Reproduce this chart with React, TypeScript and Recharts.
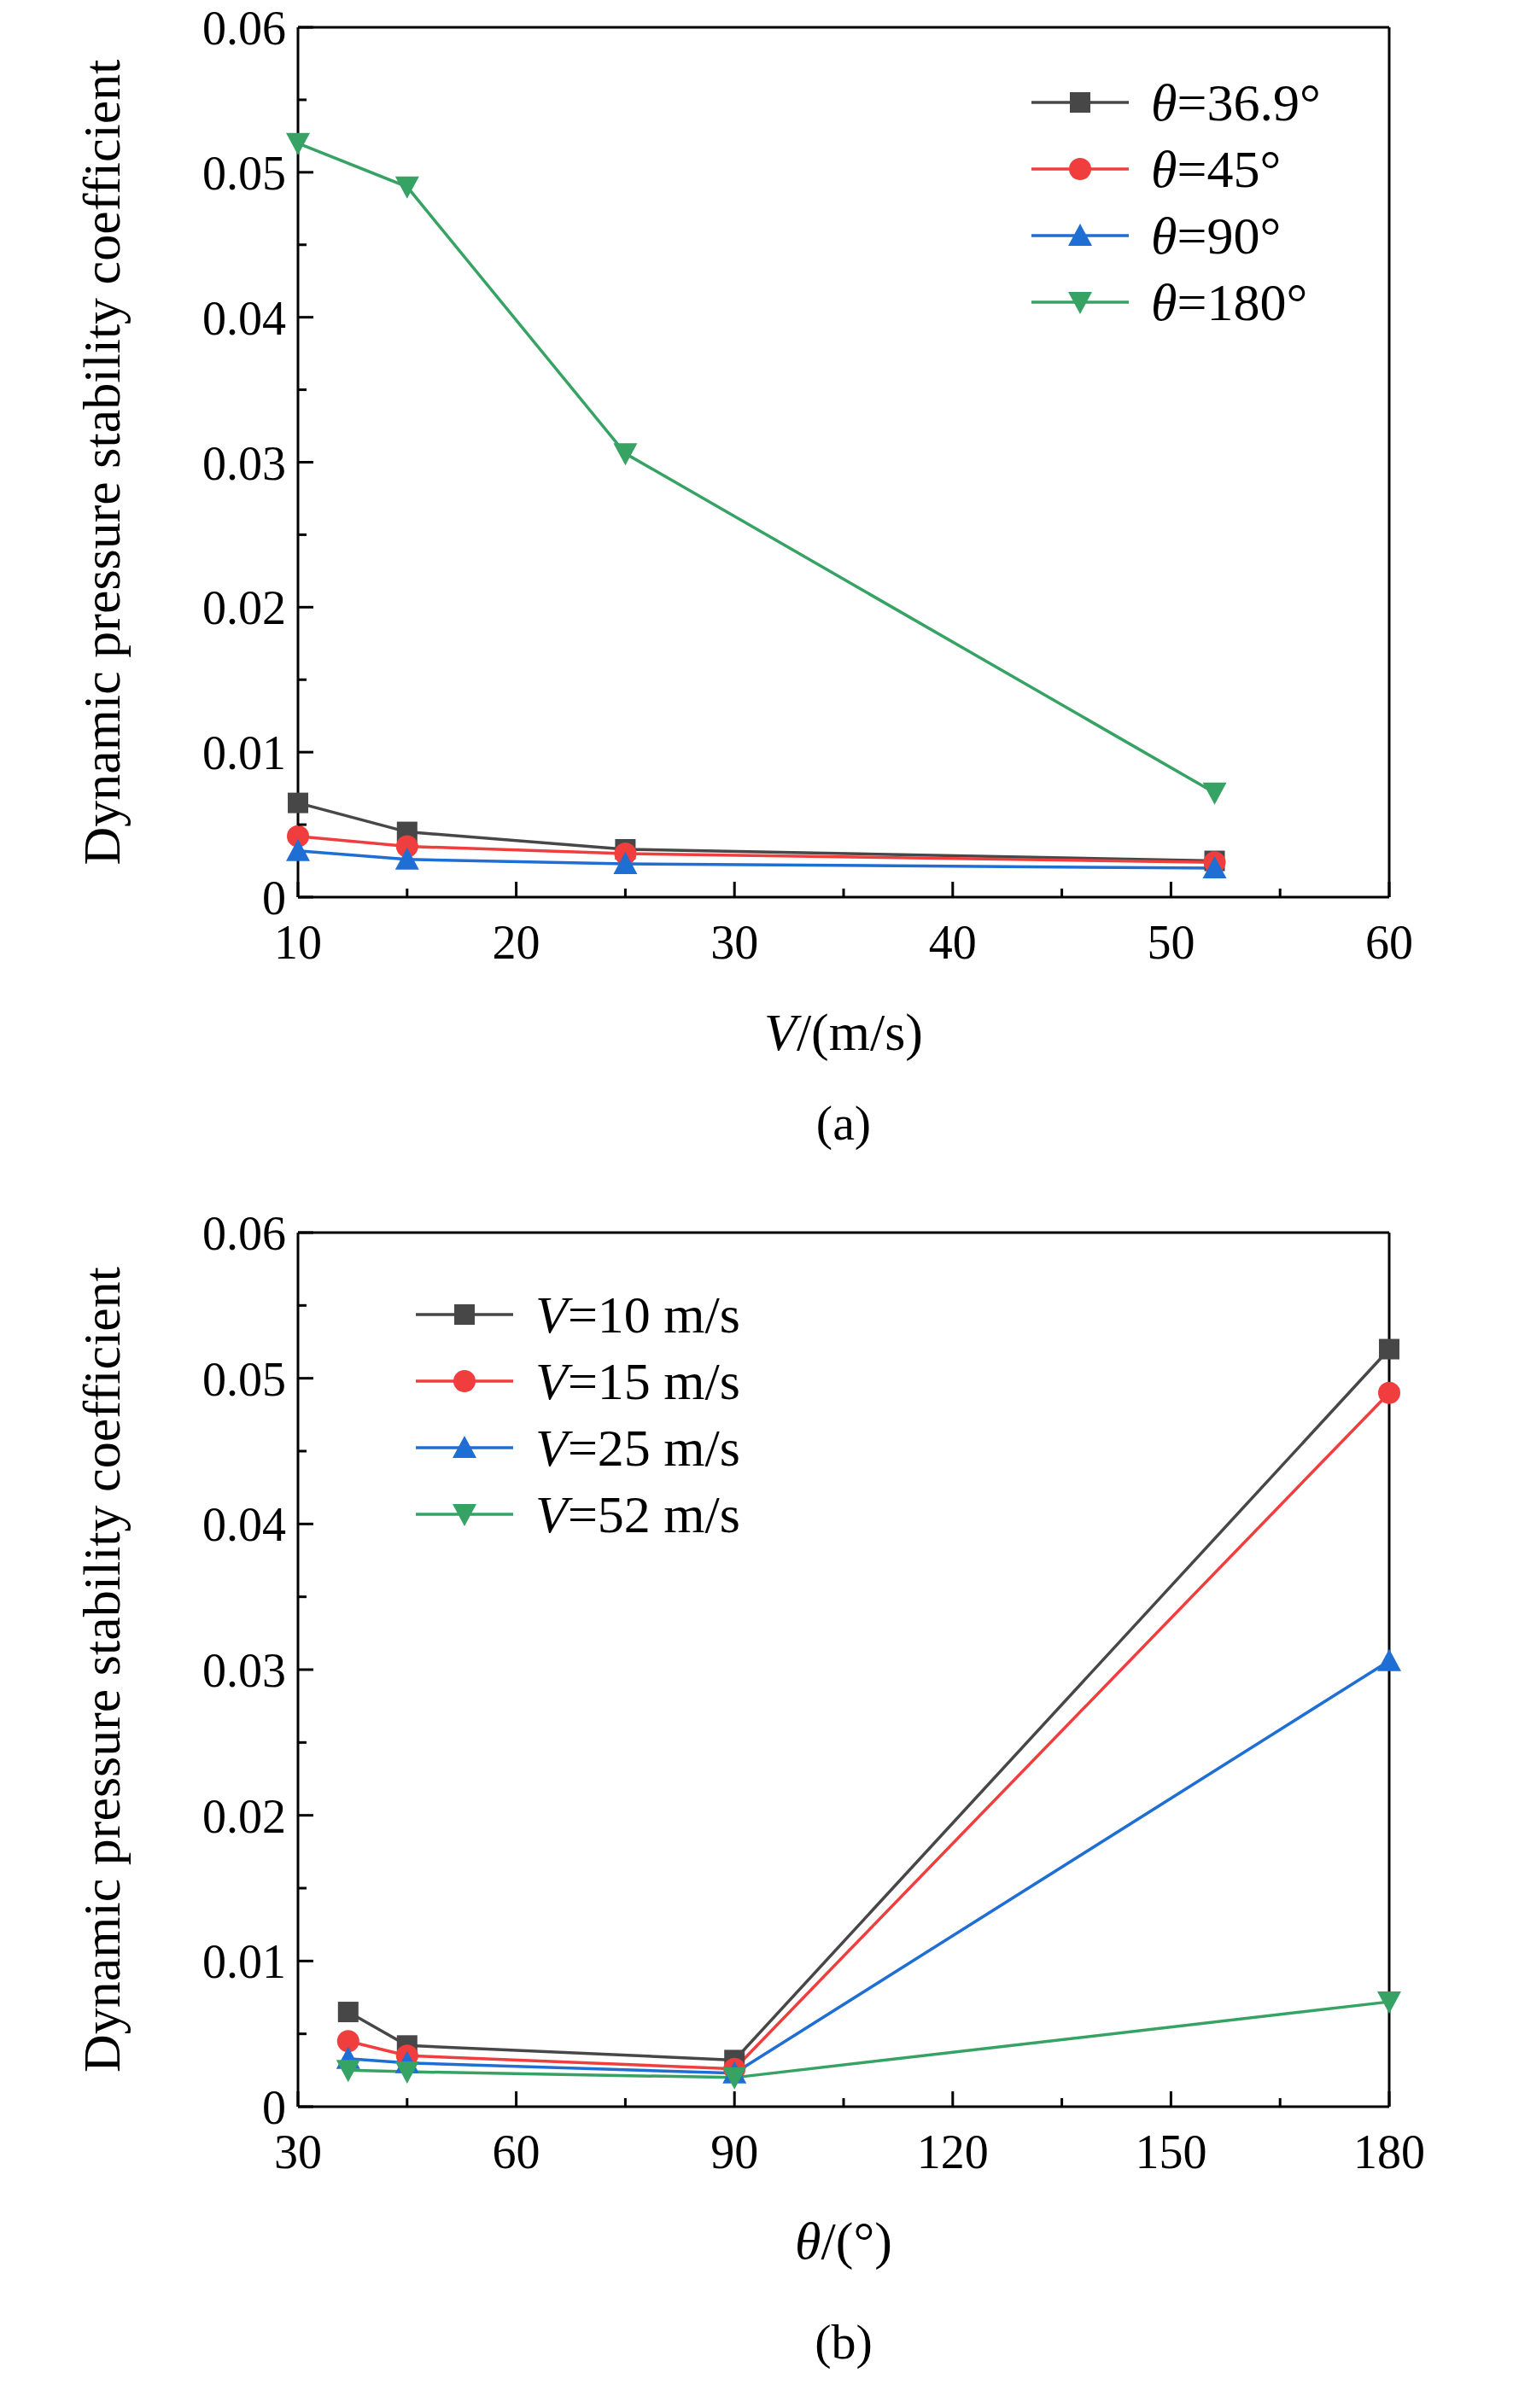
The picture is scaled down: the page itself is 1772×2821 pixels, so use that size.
import React from 'react';
import { LineChart, Line, XAxis, YAxis } from 'recharts';

const speeds = [10, 15, 25, 52];
const angles = [36.9, 45, 90, 180];
// rows: angle, columns: speed
const theta369 = [0.0065, 0.0045, 0.0033, 0.0025];
const theta45 = [0.0042, 0.0035, 0.003, 0.0024];
const theta90 = [0.0032, 0.0026, 0.0023, 0.002];
const theta180 = [0.052, 0.049, 0.0306, 0.0072];
const yTicks = [0, 0.005, 0.01, 0.015, 0.02, 0.025, 0.03, 0.035, 0.04, 0.045, 0.05, 0.055, 0.06];
const xTicksA = [10, 15, 20, 25, 30, 35, 40, 45, 50, 55, 60];
const xTicksB = [30, 45, 60, 75, 90, 105, 120, 135, 150, 165, 180];

const COLORS = ['#474747', '#f03d3d', '#1f6ed4', '#36a264'];
const SHAPES = ['square', 'circle', 'up', 'down'];
const FONT = '"Liberation Serif", "Times New Roman", serif';
const FS = 56;

const W = 1772;
const L = 349;
const R = 1627;

const rows = [theta369, theta45, theta90, theta180];
const dataA = speeds.map((v, i) => ({ x: v, s0: rows[0][i], s1: rows[1][i], s2: rows[2][i], s3: rows[3][i] }));
const dataB = angles.map((a, j) => ({
  x: a,
  s0: rows[j][0],
  s1: rows[j][1],
  s2: rows[j][2],
  s3: rows[j][3],
}));

function Marker({ cx, cy, shape, color }: any) {
  const r = 12;
  if (shape === 'square') return <rect x={cx - r} y={cy - r} width={2 * r} height={2 * r} fill={color} />;
  if (shape === 'circle') return <circle cx={cx} cy={cy} r={r + 1} fill={color} />;
  if (shape === 'up')
    return <polygon points={`${cx},${cy - r - 2} ${cx - r - 2},${cy + r} ${cx + r + 2},${cy + r}`} fill={color} />;
  return <polygon points={`${cx},${cy + r + 2} ${cx - r - 2},${cy - r} ${cx + r + 2},${cy - r}`} fill={color} />;
}

function makeXTick(bottom: number, major: number) {
  return (props: any) => {
    const { x, payload } = props;
    const isMajor = payload.value % major === 0;
    return (
      <g>
        <line x1={x} x2={x} y1={bottom} y2={bottom - (isMajor ? 18 : 10)} stroke="#000" strokeWidth={3} />
        {isMajor && (
          <text x={x} y={bottom + 72} textAnchor="middle" fontSize={FS} fontFamily={FONT} fill="#000">
            {payload.value}
          </text>
        )}
      </g>
    );
  };
}

function YTick(props: any) {
  const { y, payload } = props;
  const v = Math.round(payload.value * 1000);
  const isMajor = v % 10 === 0;
  return (
    <g>
      <line x1={L} x2={L + (isMajor ? 18 : 10)} y1={y} y2={y} stroke="#000" strokeWidth={3} />
      {isMajor && (
        <text x={L - 14} y={y + 20} textAnchor="end" fontSize={FS} fontFamily={FONT} fill="#000">
          {v === 0 ? '0' : (v / 1000).toFixed(2)}
        </text>
      )}
    </g>
  );
}

function Panel({ data, top, bottom, height, xDomain, xTicks, major, labels, legendX, legendY, xLabel, cap, xLabelY, capY }: any) {
  return (
    <div style={{ position: 'relative', width: W, height }}>
      <LineChart width={W} height={height} data={data} margin={{ left: L - 1, right: W - R - 1, top: top - 1, bottom: height - bottom - 1 }}>
        <XAxis
          dataKey="x"
          type="number"
          domain={xDomain}
          ticks={xTicks}
          interval={0}
          tick={makeXTick(bottom, major)}
          tickLine={false}
          tickSize={0}
          axisLine={{ stroke: '#000', strokeWidth: 3 }}
          height={1}
        />
        <XAxis xAxisId="top" orientation="top" dataKey="x" type="number" domain={xDomain} tick={false} tickLine={false} axisLine={{ stroke: '#000', strokeWidth: 3 }} height={1} />
        <YAxis
          type="number"
          domain={[0, 0.06]}
          ticks={yTicks}
          interval={0}
          tick={YTick}
          tickLine={false}
          tickSize={0}
          axisLine={{ stroke: '#000', strokeWidth: 3 }}
          width={1}
        />
        <YAxis yAxisId="right" orientation="right" domain={[0, 0.06]} tick={false} tickLine={false} axisLine={{ stroke: '#000', strokeWidth: 3 }} width={1} />
        {[0, 1, 2, 3].map((k) => (
          <Line
            key={k}
            dataKey={`s${k}`}
            stroke={COLORS[k]}
            strokeWidth={3.5}
            isAnimationActive={false}
            dot={(p: any) => <Marker key={p.index} cx={p.cx} cy={p.cy} shape={SHAPES[k]} color={COLORS[k]} />}
          />
        ))}
      </LineChart>
      <svg style={{ position: 'absolute', left: 0, top: 0 }} width={W} height={height}>
        {labels.map((lab: any, k: number) => {
          const y = legendY + k * 78;
          return (
            <g key={k}>
              <line x1={legendX} x2={legendX + 114} y1={y} y2={y} stroke={COLORS[k]} strokeWidth={3.5} />
              <Marker cx={legendX + 57} cy={y} shape={SHAPES[k]} color={COLORS[k]} />
              <text x={legendX + 140} y={y + 21} fontSize={62} fontFamily={FONT}>
                <tspan fontStyle="italic">{lab[0]}</tspan>
                {lab[1]}
              </text>
            </g>
          );
        })}
        <text x={(L + R) / 2} y={xLabelY} textAnchor="middle" fontSize={62} fontFamily={FONT}>
          <tspan fontStyle="italic">{xLabel[0]}</tspan>
          {xLabel[1]}
        </text>
        <text x={(L + R) / 2} y={capY} textAnchor="middle" fontSize={58} fontFamily={FONT}>
          {cap}
        </text>
        <text
          transform={`translate(140, ${(top + bottom) / 2}) rotate(-90)`}
          textAnchor="middle"
          fontSize={62}
          fontFamily={FONT}
        >
          Dynamic pressure stability coefficient
        </text>
      </svg>
    </div>
  );
}

export default function App() {
  return (
    <div style={{ position: 'absolute', left: 0, top: 0, width: W, height: 2821, background: '#fff' }}>
      <Panel
        data={dataA}
        top={32}
        bottom={1051}
        height={1410}
        xDomain={[10, 60]}
        xTicks={xTicksA}
        major={10}
        labels={[['θ', '=36.9°'], ['θ', '=45°'], ['θ', '=90°'], ['θ', '=180°']]}
        legendX={1208}
        legendY={120}
        xLabel={['V', '/(m/s)']}
        xLabelY={1230}
        cap="(a)"
        capY={1335}
      />
      <Panel
        data={dataB}
        top={34}
        bottom={1058}
        height={1411}
        xDomain={[30, 180]}
        xTicks={xTicksB}
        major={30}
        labels={[['V', '=10 m/s'], ['V', '=15 m/s'], ['V', '=25 m/s'], ['V', '=52 m/s']]}
        legendX={487}
        legendY={130}
        xLabel={['θ', '/(°)']}
        xLabelY={1236}
        cap="(b)"
        capY={1353}
      />
    </div>
  );
}
